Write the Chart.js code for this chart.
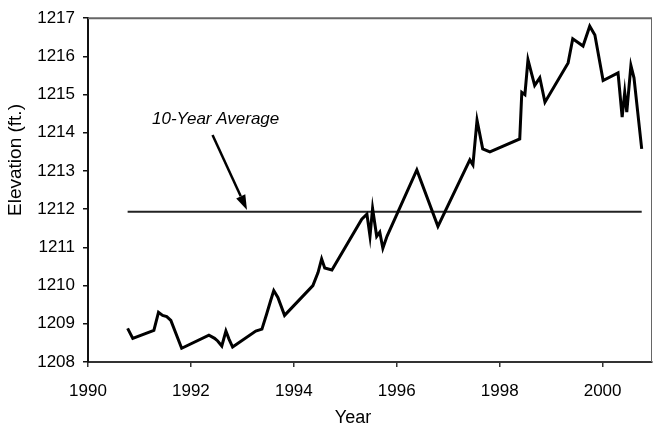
<!DOCTYPE html>
<html>
<head>
<meta charset="utf-8">
<script src="https://cdn.jsdelivr.net/npm/chart.js@4/dist/chart.umd.min.js"></script>
<style>
  html, body { margin: 0; padding: 0; background: #fff; }
</style>
</head>
<body>
<canvas id="lake-chart" width="654" height="432"></canvas>
<script>
// Lake elevation record
const years = [
    1990.77, 1990.87, 1991.28, 1991.37, 1991.45, 1991.53, 1991.61, 1991.82,
    1992.35, 1992.46, 1992.52, 1992.60, 1992.68, 1992.74, 1992.81,
    1993.26, 1993.38, 1993.47, 1993.55, 1993.61, 1993.69, 1993.82,
    1994.37, 1994.47, 1994.54, 1994.60, 1994.74,
    1995.32, 1995.42, 1995.48, 1995.53, 1995.61, 1995.67, 1995.73, 1995.81,
    1996.39, 1996.80, 1997.42, 1997.48, 1997.56, 1997.67, 1997.81,
    1998.39, 1998.43, 1998.49, 1998.55, 1998.68, 1998.78, 1998.88,
    1999.33, 1999.42, 1999.62, 1999.75, 1999.85,
    2000.01, 2000.30, 2000.38, 2000.43, 2000.47, 2000.55, 2000.61, 2000.76
];
const elevation = [
    1208.88, 1208.62, 1208.83, 1209.30, 1209.22, 1209.19, 1209.09, 1208.36,
    1208.70, 1208.62, 1208.55, 1208.42, 1208.81, 1208.60, 1208.39,
    1208.81, 1208.86, 1209.25, 1209.61, 1209.87, 1209.69, 1209.22,
    1210.00, 1210.34, 1210.70, 1210.46, 1210.41,
    1211.74, 1211.87, 1211.29, 1212.02, 1211.29, 1211.40, 1210.98, 1211.29,
    1213.03, 1211.55, 1213.29, 1213.16, 1214.33, 1213.58, 1213.50,
    1213.84, 1215.06, 1215.00, 1215.91, 1215.24, 1215.44, 1214.80,
    1215.83, 1216.46, 1216.27, 1216.79, 1216.56,
    1215.37, 1215.57, 1214.41, 1215.06, 1214.54, 1215.76, 1215.44, 1213.58
];

// 10-year average line
const averageYears = [1990.77, 2000.76];
const averageElevation = 1211.93;

// Axis ticks and labels
const xTicks = [1990, 1992, 1994, 1996, 1998, 2000];
const yTicks = [1208, 1209, 1210, 1211, 1212, 1213, 1214, 1215, 1216, 1217];
const xTitle = 'Year';
const yTitle = 'Elevation (ft.)';

// Annotation: label position, arrow start and arrow tip (data units)
const noteText = '10-Year Average';
const noteLabel = [1992.48, 1214.35];
const noteArrow = [[1992.42, 1213.94], [1993.09, 1211.98]];

const FONT = '"Liberation Sans", Arial, sans-serif';

// Draws the frame, axis titles and the arrow note
const decorations = {
    id: 'decorations',
    afterDraw(chart) {
        const { ctx, chartArea: a, scales } = chart;
        const x = scales.x, y = scales.y;
        ctx.save();

        // top and right frame
        ctx.strokeStyle = '#666';
        ctx.lineWidth = 2;
        ctx.beginPath();
        ctx.moveTo(a.left, a.top);
        ctx.lineTo(a.right, a.top);
        ctx.stroke();
        ctx.lineWidth = 1;
        ctx.beginPath();
        ctx.moveTo(a.right - 0.5, a.top);
        ctx.lineTo(a.right - 0.5, a.bottom);
        ctx.stroke();

        // axis titles
        ctx.fillStyle = '#000';
        ctx.font = '18px ' + FONT;
        ctx.textAlign = 'center';
        ctx.textBaseline = 'middle';
        ctx.fillText(xTitle, 353, 418);
        ctx.font = '19px ' + FONT;
        ctx.translate(16, 160);
        ctx.rotate(-Math.PI / 2);
        ctx.fillText(yTitle, 0, 0);
        ctx.setTransform(1, 0, 0, 1, 0, 0);

        // note text
        ctx.font = 'italic 17px ' + FONT;
        ctx.fillText(noteText, x.getPixelForValue(noteLabel[0]), y.getPixelForValue(noteLabel[1]));

        // note arrow
        const x0 = x.getPixelForValue(noteArrow[0][0]), y0 = y.getPixelForValue(noteArrow[0][1]);
        const x1 = x.getPixelForValue(noteArrow[1][0]), y1 = y.getPixelForValue(noteArrow[1][1]);
        const ang = Math.atan2(y1 - y0, x1 - x0);
        const head = 15, half = 5;
        ctx.strokeStyle = '#000';
        ctx.lineWidth = 2.5;
        ctx.beginPath();
        ctx.moveTo(x0, y0);
        ctx.lineTo(x1 - head * Math.cos(ang), y1 - head * Math.sin(ang));
        ctx.stroke();
        ctx.beginPath();
        ctx.moveTo(x1, y1);
        ctx.lineTo(x1 - head * Math.cos(ang) + half * Math.sin(ang), y1 - head * Math.sin(ang) - half * Math.cos(ang));
        ctx.lineTo(x1 - head * Math.cos(ang) - half * Math.sin(ang), y1 - head * Math.sin(ang) + half * Math.cos(ang));
        ctx.closePath();
        ctx.fill();

        ctx.restore();
    }
};

const ctx = document.getElementById('lake-chart').getContext('2d');
new Chart(ctx, {
    type: 'line',
    data: {
        datasets: [
            {
                label: 'Elevation',
                data: years.map((yr, i) => ({ x: yr, y: elevation[i] })),
                borderColor: '#000',
                borderWidth: 3,
                pointRadius: 0,
                tension: 0
            },
            {
                label: '10-Year Average',
                data: averageYears.map(yr => ({ x: yr, y: averageElevation })),
                borderColor: '#222',
                borderWidth: 2,
                pointRadius: 0
            }
        ]
    },
    options: {
        responsive: false,
        animation: false,
        layout: { padding: { top: 15, right: 2, left: 0, bottom: 0 } },
        plugins: {
            legend: { display: false },
            tooltip: { enabled: false }
        },
        scales: {
            x: {
                type: 'linear',
                min: 1990,
                max: 2000.96,
                afterBuildTicks: (scale) => { scale.ticks = xTicks.map(v => ({ value: v })); },
                afterFit: (scale) => { scale.height = 70; },
                border: { color: '#333', width: 2 },
                grid: { drawOnChartArea: false, color: '#333', tickLength: 5, lineWidth: 1.5 },
                ticks: {
                    color: '#000',
                    font: { family: FONT, size: 17 },
                    padding: 14,
                    maxRotation: 0,
                    callback: (v) => String(v)
                }
            },
            y: {
                min: 1208,
                max: 1217,
                afterBuildTicks: (scale) => { scale.ticks = yTicks.map(v => ({ value: v })); },
                afterFit: (scale) => { scale.width = 88; },
                border: { color: '#111', width: 2 },
                grid: { drawOnChartArea: false, color: '#111', tickLength: 5, lineWidth: 1.5 },
                ticks: {
                    color: '#000',
                    font: { family: FONT, size: 17 },
                    padding: 8,
                    callback: (v) => String(v)
                }
            }
        }
    },
    plugins: [decorations]
});
</script>
</body>
</html>
